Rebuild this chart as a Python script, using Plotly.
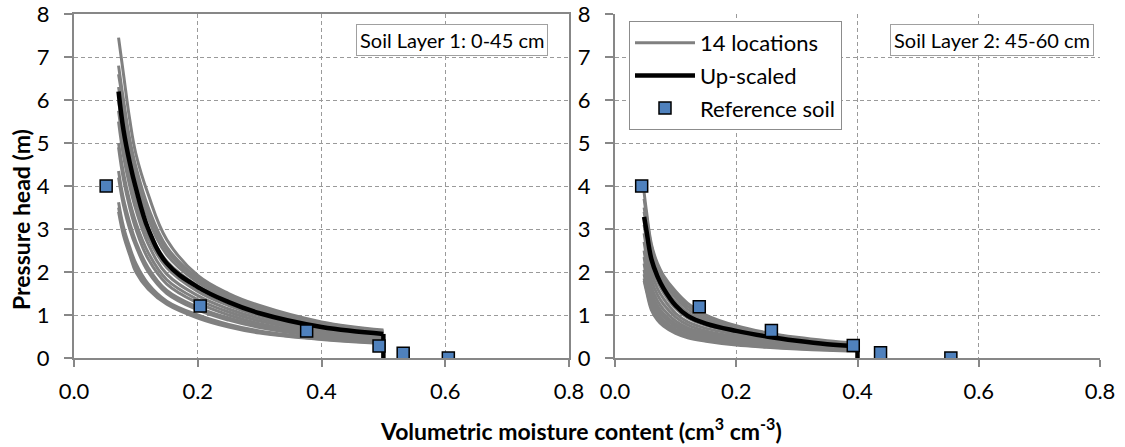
import plotly.graph_objects as go

# ---------------- data ----------------
# Soil layer 1 (0-45 cm)
theta_L1 = [0.072, 0.08, 0.09, 0.10, 0.12, 0.15, 0.20, 0.25, 0.30, 0.40, 0.50]
locs_L1 = [
    [7.45, 6.6, 5.55, 4.75, 3.8, 2.75, 1.92, 1.5, 1.22, 0.84, 0.65],
    [6.8, 6.0, 5.1, 4.45, 3.5, 2.58, 1.86, 1.45, 1.18, 0.82, 0.63],
    [6.6, 5.9, 5.0, 4.35, 3.4, 2.5, 1.82, 1.42, 1.15, 0.8, 0.62],
    [6.3, 5.6, 4.8, 4.2, 3.25, 2.4, 1.76, 1.38, 1.12, 0.78, 0.6],
    [6.0, 5.2, 4.45, 3.9, 3.0, 2.25, 1.68, 1.33, 1.07, 0.75, 0.58],
    [5.75, 4.95, 4.2, 3.65, 2.8, 2.1, 1.55, 1.22, 0.98, 0.68, 0.53],
    [5.5, 4.7, 4.0, 3.45, 2.65, 1.95, 1.45, 1.14, 0.92, 0.64, 0.5],
    [5.0, 4.3, 3.65, 3.15, 2.45, 1.82, 1.36, 1.07, 0.86, 0.6, 0.47],
    [4.9, 4.15, 3.5, 3.0, 2.3, 1.72, 1.28, 1.0, 0.8, 0.56, 0.44],
    [4.35, 3.7, 3.15, 2.7, 2.1, 1.57, 1.18, 0.93, 0.75, 0.53, 0.41],
    [4.2, 3.55, 3.0, 2.6, 2.0, 1.5, 1.12, 0.88, 0.71, 0.5, 0.39],
    [3.62, 3.05, 2.58, 2.2, 1.72, 1.32, 1.0, 0.78, 0.63, 0.46, 0.36],
    [3.5, 2.95, 2.48, 2.1, 1.65, 1.28, 0.96, 0.75, 0.6, 0.44, 0.35],
    [3.4, 2.85, 2.4, 2.0, 1.6, 1.25, 0.93, 0.72, 0.58, 0.43, 0.34],
]
upscaled_L1 = [6.2, 5.3, 4.55, 3.95, 3.0, 2.2, 1.65, 1.3, 1.04, 0.72, 0.56]
ref_theta_L1 = [0.052, 0.204, 0.376, 0.493, 0.532, 0.605]
ref_head_L1 = [4.0, 1.21, 0.63, 0.28, 0.11, 0.0]

# Soil layer 2 (45-60 cm)
theta_L2 = [0.048, 0.052, 0.06, 0.07, 0.08, 0.10, 0.12, 0.15, 0.20, 0.25, 0.30, 0.35, 0.40]
locs_L2 = [
    [3.85, 3.4, 2.65, 2.2, 1.92, 1.55, 1.27, 1.0, 0.75, 0.59, 0.48, 0.4, 0.34],
    [3.7, 3.3, 2.6, 2.15, 1.86, 1.48, 1.2, 0.95, 0.72, 0.57, 0.46, 0.38, 0.33],
    [3.5, 3.15, 2.5, 2.05, 1.78, 1.4, 1.13, 0.9, 0.69, 0.55, 0.44, 0.37, 0.31],
    [3.4, 3.05, 2.4, 1.98, 1.7, 1.3, 1.05, 0.85, 0.66, 0.52, 0.42, 0.35, 0.3],
    [3.1, 2.75, 2.15, 1.78, 1.52, 1.15, 0.93, 0.76, 0.6, 0.48, 0.39, 0.32, 0.27],
    [2.9, 2.55, 2.0, 1.62, 1.38, 1.04, 0.84, 0.69, 0.55, 0.44, 0.36, 0.3, 0.25],
    [2.7, 2.35, 1.82, 1.47, 1.25, 0.95, 0.77, 0.63, 0.5, 0.41, 0.33, 0.28, 0.24],
    [2.5, 2.15, 1.65, 1.33, 1.13, 0.86, 0.7, 0.58, 0.46, 0.38, 0.31, 0.26, 0.22],
    [2.35, 2.0, 1.52, 1.22, 1.03, 0.79, 0.65, 0.53, 0.42, 0.35, 0.29, 0.24, 0.21],
    [2.2, 1.88, 1.42, 1.13, 0.96, 0.73, 0.6, 0.49, 0.39, 0.32, 0.27, 0.23, 0.2],
    [2.05, 1.75, 1.32, 1.05, 0.88, 0.67, 0.55, 0.46, 0.36, 0.3, 0.25, 0.21, 0.18],
    [1.95, 1.68, 1.25, 0.98, 0.83, 0.63, 0.52, 0.43, 0.34, 0.28, 0.23, 0.2, 0.17],
    [1.85, 1.6, 1.18, 0.92, 0.78, 0.6, 0.49, 0.41, 0.32, 0.26, 0.22, 0.19, 0.17],
    [1.8, 1.55, 1.12, 0.88, 0.74, 0.57, 0.47, 0.39, 0.3, 0.25, 0.21, 0.18, 0.16],
]
upscaled_L2 = [3.28, 2.95, 2.3, 1.9, 1.62, 1.22, 0.98, 0.8, 0.63, 0.5, 0.4, 0.32, 0.27]
ref_theta_L2 = [0.044, 0.139, 0.258, 0.393, 0.438, 0.554]
ref_head_L2 = [4.0, 1.19, 0.64, 0.29, 0.12, 0.0]

x_ticks = [0.0, 0.2, 0.4, 0.6, 0.8]
y_ticks = [0, 1, 2, 3, 4, 5, 6, 7, 8]
panel_labels = ["Soil Layer 1: 0-45 cm", "Soil Layer 2: 45-60 cm"]

# ---------------- styles ----------------
FONT = "Lato"
GRAY = "#808080"
BLUE = "#4F81BD"
AXIS = "#878787"

fig = go.Figure()

panels = [
    (theta_L1, locs_L1, upscaled_L1, ref_theta_L1, ref_head_L1, "x", "y"),
    (theta_L2, locs_L2, upscaled_L2, ref_theta_L2, ref_head_L2, "x2", "y2"),
]

for p, (th, locs, up, rth, rh, xa, ya) in enumerate(panels):
    for i, h in enumerate(locs):
        fig.add_trace(go.Scatter(
            x=th, y=h, mode="lines", xaxis=xa, yaxis=ya,
            line=dict(color=GRAY, width=3, shape="spline", smoothing=1.1),
            name="14 locations", legendgroup="g",
            showlegend=(p == 0 and i == 0), hoverinfo="skip"))
    fig.add_trace(go.Scatter(
        x=th, y=up, mode="lines", xaxis=xa, yaxis=ya,
        line=dict(color="black", width=4.5, shape="spline", smoothing=1.1),
        name="Up-scaled", legendgroup="b", showlegend=(p == 0)))
    # vertical drop at saturation
    fig.add_trace(go.Scatter(
        x=[th[-1], th[-1]], y=[up[-1], 0], mode="lines", xaxis=xa, yaxis=ya,
        line=dict(color="black", width=4.5), showlegend=False, hoverinfo="skip"))
    fig.add_trace(go.Scatter(
        x=rth, y=rh, mode="markers", xaxis=xa, yaxis=ya,
        marker=dict(symbol="square", size=12, color=BLUE,
                    line=dict(color="black", width=1.5)),
        name="Reference soil", legendgroup="r", showlegend=(p == 0)))

W, H = 1125, 447
y_dom = [1 - 358 / H, 1 - 14 / H]

common_x = dict(range=[0, 0.8], tickvals=x_ticks, ticktext=[f"{v:.1f}" for v in x_ticks],
                showgrid=True, gridcolor="#9a9a9a", gridwidth=1, griddash="4px,3px",
                showline=True, linecolor=AXIS, linewidth=2,
                ticks="outside", ticklen=7, tickwidth=2, tickcolor=AXIS,
                ticklabelstandoff=6, ticklabeloverflow="allow", automargin=False,
                tickfont=dict(family=FONT, size=22, color="black"),
                zeroline=False, fixedrange=True)
common_y = dict(range=[0, 8], tickvals=y_ticks,
                showgrid=True, gridcolor="#9a9a9a", gridwidth=1, griddash="4px,3px",
                showline=True, linecolor=AXIS, linewidth=2,
                ticks="outside", ticklen=8, tickwidth=2, tickcolor=AXIS,
                ticklabelstandoff=10, ticklabeloverflow="allow", automargin=False,
                tickfont=dict(family=FONT, size=22, color="black"),
                zeroline=False, fixedrange=True)

fig.update_layout(
    width=W, height=H,
    margin=dict(l=0, r=0, t=0, b=0, autoexpand=False),
    paper_bgcolor="white", plot_bgcolor="white",
    xaxis=dict(common_x, domain=[74 / W, 569 / W], anchor="y", mirror=True),
    yaxis=dict(common_y, domain=y_dom, anchor="x", mirror=True),
    xaxis2=dict(common_x, domain=[615 / W, 1100 / W], anchor="y2"),
    yaxis2=dict(common_y, domain=y_dom, anchor="x2"),
    showlegend=True,
    legend=dict(x=629 / W, y=1 - 21 / H, xanchor="left", yanchor="top",
                bgcolor="white", bordercolor="#8c8c8c", borderwidth=1,
                font=dict(family=FONT, size=22, color="black"),
                traceorder="grouped", tracegroupgap=1, itemwidth=60),
    font=dict(family=FONT),
)

annots = [
    dict(text=panel_labels[0], x=452 / W, y=1 - 39.5 / H),
    dict(text=panel_labels[1], x=992 / W, y=1 - 40 / H),
]
for a in annots:
    fig.add_annotation(xref="paper", yref="paper", x=a["x"], y=a["y"],
                       text=a["text"], showarrow=False, xanchor="center", yanchor="middle",
                       font=dict(family=FONT, size=20, color="black"),
                       bgcolor="white", bordercolor="#a0a0a0", borderwidth=1, borderpad=3)

fig.add_annotation(xref="paper", yref="paper", x=581 / W, y=1 - 429 / H,
                   text="<b>Volumetric moisture content (cm<sup>3</sup> cm<sup>-3</sup>)</b>",
                   showarrow=False, xanchor="center", yanchor="middle",
                   font=dict(family=FONT, size=23, color="black"))
fig.add_annotation(xref="paper", yref="paper", x=21 / W, y=1 - 220 / H,
                   text="<b>Pressure head (m)</b>", textangle=-90,
                   showarrow=False, xanchor="center", yanchor="middle",
                   font=dict(family=FONT, size=23, color="black"))

fig.write_html("out.html")
